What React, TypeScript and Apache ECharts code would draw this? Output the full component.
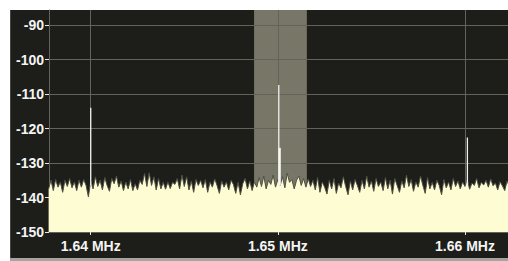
import React, { useEffect, useRef } from "react";
import * as echarts from "echarts";

// Frequency axis in kHz
const freqStart = 1637.75;
const freqStep = 0.125;
const xTicks = [1640, 1650, 1660];
const xTickLabels = ["1.64 MHz", "1.65 MHz", "1.66 MHz"];
const yTicks = [-150, -140, -130, -120, -110, -100, -90];

// Noise trace (dBm)
const noise = [
  -137.5, -135, -138, -134.8, -137, -135.5, -138.5, -135, -136.8, -134.5, -137.2,
  -135.5, -138, -135, -137, -134.8, -136.5, -139.8, -135.2, -137.5, -134, -136.8,
  -135, -137.8, -134.2, -136.5, -138.2, -134.5, -136, -133.8, -137, -135.2, -138,
  -135.5, -137.5, -134.8, -138, -136, -137.8, -135, -136.2, -133, -136.8, -132.8,
  -136.5, -134, -137.8, -134.5, -137.5, -135.6, -137.6, -135.5, -137.4, -135.6, -136.2,
  -134.5, -137.5, -133.5, -136.8, -134, -137.8, -135.2, -138.5, -134.8, -136.5, -135,
  -137.2, -134.8, -138.5, -135.5, -137, -134.6, -136.5, -138.8, -135.2, -137, -135.5,
  -137.8, -135, -136.2, -138.8, -135.6, -139.2, -136, -134.5, -137.5, -135.2, -138,
  -135.5, -137, -134.2, -136.8, -133.8, -137.5, -135, -136.2, -133.5, -137, -134.8,
  -136.5, -134, -137.2, -133, -135.6, -134.8, -137.5, -135, -133.8, -136.5, -134.5,
  -137, -134.6, -136.8, -135, -137.8, -134.2, -138.5, -135.5, -137, -139, -135,
  -137.5, -134.5, -138.8, -135.8, -137.2, -134, -136.8, -139.2, -135.2, -137.8, -134.8,
  -136.5, -138.5, -135, -137.5, -133.8, -137, -135.2, -138.2, -134.5, -136.8, -135.5,
  -138, -134.2, -137.5, -135, -139, -134.5, -136.5, -138.5, -135.2, -137.2, -133.5,
  -136.8, -134.8, -138.2, -135.5, -137, -133.8, -136.5, -138.8, -134.2, -137.5, -135.6,
  -137.8, -135, -136.5, -139.2, -134.8, -137.2, -135.5, -137.8, -134.5, -136.8, -135.2,
  -137.5, -135.5, -136.8, -134.8, -137.6, -135.8, -136.5, -134.5, -137.2, -135.6, -136.4,
  -135, -137, -134.6, -136.6, -135.8, -137.8, -135.4, -136.6, -138, -135.2, -136.8,
  -134.8, -137.4, -135.8, -138.6, -135, -136.6, -134.4, -137.2, -135.6, -136.2, -135.4,
];

// Carrier peaks
const peakFreqs = [1640.0, 1650.05, 1660.13];
const peakTops = [-114, -107.4, -122.6];
const peakBase = -136.5;
const strongPeakLower = -125.6;

// Shaded channel band
const bandFrom = 1648.73;
const bandTo = 1651.55;

const xMin = 1637.77;
const xMax = 1662.3;
const yMin = -150;
const yMax = -85.65;

export default function App() {
  const ref = useRef<HTMLDivElement>(null);

  useEffect(() => {
    if (!ref.current) return;
    const chart = echarts.init(ref.current, undefined, { renderer: "svg" });
    const trace = noise.map((v, i) => [freqStart + i * freqStep, v]);
    const peakSeries = peakFreqs.map((f, i) => ({
      type: "line",
      z: 5,
      silent: true,
      symbol: "none",
      lineStyle: { color: "#f2f2ee", width: 1.3 },
      data: [
        [f, peakBase],
        [f, peakTops[i]],
      ],
    }));
    const labelStyle = {
      color: "#f4f4f4",
      fontFamily: "Liberation Sans, Arial, sans-serif",
      fontSize: 14,
      fontWeight: "bold",
    };
    chart.setOption({
      animation: false,
      backgroundColor: "transparent",
      grid: { left: 49, right: 0, top: 10, bottom: 29, containLabel: false },
      xAxis: {
        type: "value",
        min: xMin,
        max: xMax,
        axisLine: { show: true, lineStyle: { color: "#62645b", width: 1 } },
        axisTick: {
          show: true,
          customValues: xTicks,
          length: 3,
          lineStyle: { color: "#e8e8e8" },
        },
        axisLabel: {
          ...labelStyle,
          customValues: xTicks,
          margin: 7,
          formatter: (v: number) => xTickLabels[xTicks.indexOf(Math.round(v))] ?? "",
        },
        splitLine: { show: true, lineStyle: { color: "#62645b", width: 1 } },
      },
      yAxis: {
        type: "value",
        min: yMin,
        max: yMax,
        axisLine: { show: true, lineStyle: { color: "#62645b", width: 1 } },
        axisTick: {
          show: true,
          customValues: yTicks,
          length: 4,
          lineStyle: { color: "#e8e8e8" },
        },
        axisLabel: {
          ...labelStyle,
          customValues: yTicks,
          margin: 5,
        },
        splitLine: { show: true, lineStyle: { color: "#62645b", width: 1 } },
      },
      series: [
        {
          type: "line",
          z: -1,
          silent: true,
          symbol: "none",
          lineStyle: { width: 0 },
          areaStyle: { color: "rgba(212,207,182,0.5)", origin: "start", opacity: 1 },
          data: [
            [bandFrom, yMax],
            [bandTo, yMax],
          ],
        },
        {
          type: "line",
          z: 3,
          silent: true,
          symbol: "none",
          lineStyle: { color: "#4e4e44", width: 1 },
          areaStyle: { color: "#fefcd2", origin: "start", opacity: 1 },
          data: trace,
        },
        ...peakSeries,
        {
          type: "line",
          z: 6,
          silent: true,
          symbol: "none",
          lineStyle: { color: "#f6f6f2", width: 2.2 },
          data: [
            [peakFreqs[1] + 0.05, peakBase],
            [peakFreqs[1] + 0.05, strongPeakLower],
          ],
        },
      ],
    });
    return () => chart.dispose();
  }, []);

  return (
    <div
      style={{
        position: "fixed",
        left: 0,
        top: 0,
        width: 508,
        height: 261,
        background: "#ffffff",
        overflow: "hidden",
      }}
    >
      <div
        style={{
          position: "absolute",
          left: 10,
          top: 10,
          width: 498,
          height: 248,
          background: "#1d1e19",
          borderLeft: "1px solid #45463f",
          boxSizing: "border-box",
        }}
      />
      <div
        style={{
          position: "absolute",
          left: 10,
          top: 258,
          width: 498,
          height: 3,
          background: "#a4a4a0",
        }}
      />
      <div
        ref={ref}
        style={{ position: "absolute", left: 0, top: 0, width: 508, height: 261 }}
      />
    </div>
  );
}
